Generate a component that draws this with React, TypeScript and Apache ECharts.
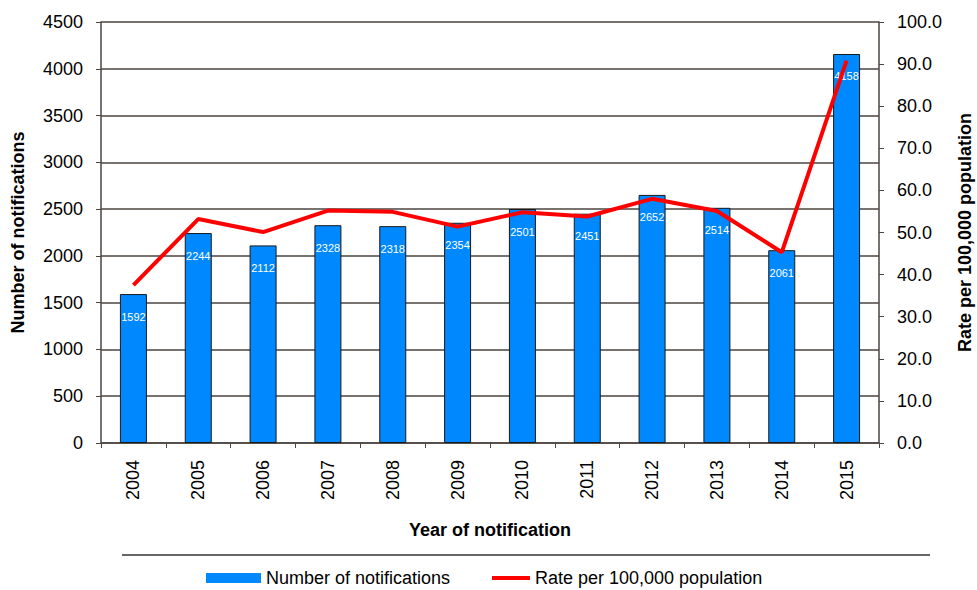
import React, { useEffect, useRef } from "react";
import * as echarts from "echarts";

const years = ["2004", "2005", "2006", "2007", "2008", "2009", "2010", "2011", "2012", "2013", "2014", "2015"];
const notifications = [1592, 2244, 2112, 2328, 2318, 2354, 2501, 2451, 2652, 2514, 2061, 4158];
const ratePer100k = [37.5, 53.2, 50.1, 55.2, 54.9, 51.4, 54.8, 53.8, 58.0, 55.1, 45.3, 90.8];

const FONT = "Liberation Sans, Arial, sans-serif";
const LINE = "#4d4540";
const FS = 18;

export default function App() {
  const ref = useRef<HTMLDivElement>(null);
  useEffect(() => {
    if (!ref.current) return;
    const chart = echarts.init(ref.current, null, { renderer: "svg" });
    const legendText = { fontFamily: FONT, fontSize: FS, color: "#000" };
    chart.setOption({
      animation: false,
      textStyle: { fontFamily: FONT, color: "#000" },
      grid: { left: 101, right: 98, top: 22, bottom: 147, containLabel: false, outerBoundsMode: "none" },
      legend: [
        {
          left: 206,
          top: 569,
          padding: 0,
          itemGap: 0,
          itemWidth: 55,
          itemHeight: 10,
          textStyle: legendText,
          itemStyle: { borderWidth: 0 },
          data: [{ name: "Number of notifications", icon: "rect", itemStyle: { borderWidth: 0 } }],
        },
        {
          left: 492,
          top: 569,
          padding: 0,
          itemGap: 0,
          itemWidth: 38,
          itemHeight: 4,
          textStyle: legendText,
          data: [{ name: "Rate per 100,000 population", icon: "rect" }],
        },
      ],
      xAxis: {
        type: "category",
        data: years,
        name: "Year of notification",
        nameLocation: "middle",
        nameGap: 78,
        nameTextStyle: { fontFamily: FONT, fontSize: FS, fontWeight: "bold", color: "#000" },
        axisLine: { lineStyle: { color: LINE, width: 1.5 } },
        axisTick: { show: true, length: 5, lineStyle: { color: LINE } },
        axisLabel: { rotate: 90, fontSize: FS, color: "#000", fontFamily: FONT, margin: 17 },
      },
      yAxis: [
        {
          type: "value",
          min: 0,
          max: 4500,
          interval: 500,
          name: "Number of notifications",
          nameLocation: "middle",
          nameGap: 74,
          nameRotate: 90,
          nameTextStyle: { fontFamily: FONT, fontSize: FS, fontWeight: "bold", color: "#000" },
          axisLine: { show: true, lineStyle: { color: LINE, width: 1.5 } },
          axisTick: { show: true, length: 5, lineStyle: { color: LINE } },
          axisLabel: {
            fontSize: FS,
            color: "#000",
            fontFamily: FONT,
            margin: 18,
            formatter: (v: number) => String(v),
          },
          splitLine: { show: true, lineStyle: { color: LINE, width: 1.5 } },
        },
        {
          type: "value",
          min: 0,
          max: 100,
          interval: 10,
          position: "right",
          name: "Rate per 100,000 population",
          nameLocation: "middle",
          nameGap: 77,
          nameRotate: 90,
          nameTextStyle: { fontFamily: FONT, fontSize: FS, fontWeight: "bold", color: "#000" },
          axisLine: { show: true, lineStyle: { color: LINE, width: 1.5 } },
          axisTick: { show: true, length: 5, lineStyle: { color: LINE } },
          axisLabel: {
            fontSize: FS,
            color: "#000",
            fontFamily: FONT,
            margin: 18,
            formatter: (v: number) => v.toFixed(1),
          },
          splitLine: { show: false },
        },
      ],
      series: [
        {
          name: "Number of notifications",
          type: "bar",
          yAxisIndex: 0,
          data: notifications,
          barWidth: 27,
          itemStyle: { color: "#0088FF", borderColor: "#1a1a1a", borderWidth: 1 },
          label: {
            show: true,
            position: "insideTop",
            distance: 17,
            color: "#fff",
            fontSize: 11,
            fontFamily: FONT,
          },
        },
        {
          name: "Rate per 100,000 population",
          type: "line",
          yAxisIndex: 1,
          data: ratePer100k,
          symbol: "none",
          lineStyle: { color: "#FF0000", width: 4 },
          itemStyle: { color: "#FF0000" },
        },
      ],
      graphic: [
        {
          type: "line",
          shape: { x1: 122, y1: 555, x2: 930, y2: 555 },
          style: { stroke: "#333", lineWidth: 1.5 },
        },
      ],
    });
    return () => chart.dispose();
  }, []);
  return (
    <div
      ref={ref}
      style={{ position: "fixed", left: 0, top: 0, width: 977, height: 590, background: "#fff" }}
    />
  );
}
